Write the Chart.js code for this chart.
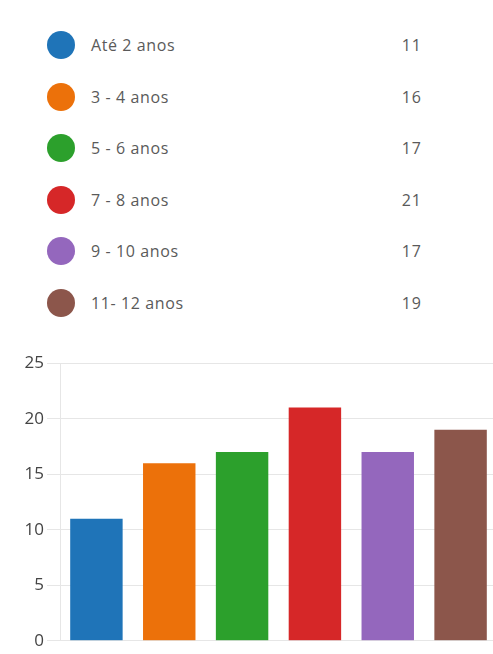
<!DOCTYPE html>
<html>
<head>
<meta charset="utf-8">
<script src="https://cdn.jsdelivr.net/npm/chart.js@4/dist/chart.umd.min.js"></script>
<style>
    html, body { margin: 0; padding: 0; background: #fff; overflow: hidden; }
    body { width: 493px; height: 654px; position: relative; font-family: 'Open Sans', 'Noto Sans', sans-serif; }
    .legend { position: absolute; left: 0; top: 0; width: 493px; }
    .legend-row { position: absolute; left: 0; height: 30px; width: 493px; }
    .legend-dot { position: absolute; left: 47px; top: 1px; width: 28px; height: 28px; border-radius: 50%; }
    .legend-label { position: absolute; left: 91px; top: 4px; font-size: 16px; color: #5a5a5a; letter-spacing: 0.6px; }
    .legend-value { position: absolute; left: 370px; width: 52px; top: 4px; font-size: 16px; color: #5a5a5a; text-align: right; letter-spacing: 1px; }
    .chart-box { position: absolute; left: 0; top: 350px; width: 497px; height: 304px; }
</style>
</head>
<body>
<div class="legend" id="legend"></div>
<div class="chart-box"><canvas id="ageChart"></canvas></div>
<script>
    const categories = ['Até 2 anos', '3 - 4 anos', '5 - 6 anos', '7 - 8 anos', '9 - 10 anos', '11- 12 anos'];
    const counts = [11, 16, 17, 21, 17, 19];
    const colors = ['#1f74b8', '#ec710a', '#2ca02c', '#d62728', '#9467bd', '#8c564b'];
    const yTicks = [0, 5, 10, 15, 20, 25];

    // --- legend rows ---
    const legendEl = document.getElementById('legend');
    legendEl.innerHTML = categories.map((name, i) => `
        <div class="legend-row" style="top: ${30 + i * 51.5}px">
            <div class="legend-dot" style="background: ${colors[i]}"></div>
            <div class="legend-label">${name}</div>
            <div class="legend-value">${counts[i]}</div>
        </div>`).join('');

    // --- bar chart ---
    new Chart(document.getElementById('ageChart'), {
        type: 'bar',
        data: {
            labels: categories,
            datasets: [{ data: counts, backgroundColor: colors, borderWidth: 0, barPercentage: 0.72, categoryPercentage: 1 }]
        },
        options: {
            responsive: true,
            maintainAspectRatio: false,
            animation: false,
            layout: { padding: { top: 6, bottom: 0, right: 0 } },
            plugins: { legend: { display: false }, tooltip: { enabled: false } },
            scales: {
                x: {
                    ticks: { display: false },
                    grid: { display: false },
                    border: { display: false }
                },
                y: {
                    min: yTicks[0],
                    max: yTicks[yTicks.length - 1],
                    afterBuildTicks: (scale) => { scale.ticks = yTicks.map(v => ({ value: v })); },
                    afterFit: (scale) => { scale.width = 60; },
                    ticks: { color: '#444', font: { family: "'Open Sans', 'Noto Sans', sans-serif", size: 17 }, padding: 3 },
                    grid: { color: '#e6e6e6', tickLength: 13, tickColor: '#e6e6e6' },
                    border: { display: true, color: '#e6e6e6' }
                }
            }
        }
    });
</script>
</body>
</html>
